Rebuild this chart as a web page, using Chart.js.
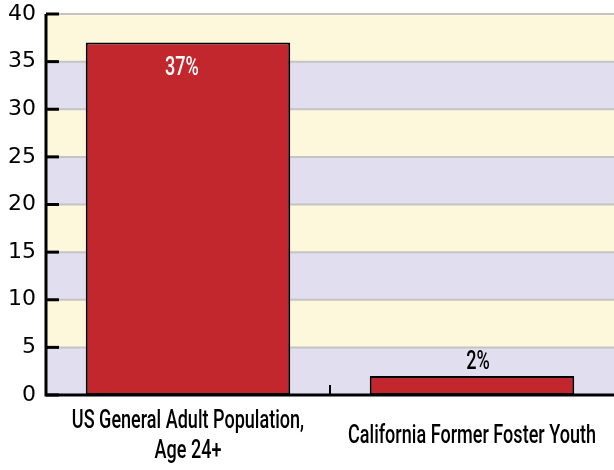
<!DOCTYPE html>
<html><head><meta charset="utf-8">
<script src="https://cdn.jsdelivr.net/npm/chart.js@4"></script>
<style>html,body{margin:0;padding:0;background:#fff}#wrap{width:614px;height:470px}</style>
</head><body><div id="wrap"><canvas id="c" width="614" height="470"></canvas></div>
<script>
const categories = [["US General Adult Population,", "Age 24+"], ["California Former Foster Youth"]];
const values = [37, 2];
const valueLabels = ["37%", "2%"];
const yTicks = [0, 5, 10, 15, 20, 25, 30, 35, 40];

const LABEL_FONT = "500 26px Roboto, 'DejaVu Sans', sans-serif";
let squeeze = null;

function narrowText(ctx, text, cx, baseline, color) {
  ctx.save();
  ctx.font = LABEL_FONT;
  if (squeeze === null) squeeze = 248 / ctx.measureText("California Former Foster Youth").width;
  ctx.translate(cx, baseline);
  ctx.scale(squeeze, 1);
  ctx.fillStyle = color;
  ctx.textAlign = 'center';
  ctx.textBaseline = 'alphabetic';
  ctx.fillText(text, 0, 0);
  ctx.restore();
}

const decor = {
  id: 'decor',
  beforeDatasetsDraw(chart) {
    const {ctx, chartArea: a, scales: {y}} = chart;
    ctx.save();
    for (let i = 0; i < yTicks.length - 1; i++) {
      const y0 = y.getPixelForValue(yTicks[i]), y1 = y.getPixelForValue(yTicks[i + 1]);
      ctx.fillStyle = (i % 2 === 0) ? '#e0deef' : '#fdf8dc';
      ctx.fillRect(a.left, y1, a.right - a.left, y0 - y1);
    }
    ctx.strokeStyle = '#c4c4c4';
    ctx.lineWidth = 2;
    yTicks.forEach(v => {
      const py = y.getPixelForValue(v);
      ctx.beginPath(); ctx.moveTo(a.left, py); ctx.lineTo(a.right, py); ctx.stroke();
    });
    ctx.restore();
  },
  afterDatasetsDraw(chart) {
    const {ctx, chartArea: a, scales: {x, y}} = chart;
    ctx.save();
    ctx.strokeStyle = '#000';
    ctx.lineWidth = 3;
    ctx.beginPath(); ctx.moveTo(a.left, a.top); ctx.lineTo(a.left, a.bottom); ctx.lineTo(a.right, a.bottom); ctx.stroke();
    yTicks.forEach(v => {
      const py = y.getPixelForValue(v);
      ctx.beginPath(); ctx.moveTo(a.left, py); ctx.lineTo(a.left + 13, py); ctx.stroke();
    });
    const mx = (x.getPixelForValue(0) + x.getPixelForValue(1)) / 2;
    ctx.lineWidth = 2;
    ctx.beginPath(); ctx.moveTo(mx, a.bottom); ctx.lineTo(mx, a.bottom - 10); ctx.stroke();
    ctx.restore();

    const meta = chart.getDatasetMeta(0);
    meta.data.forEach((bar, i) => {
      if (values[i] > 10) narrowText(ctx, valueLabels[i], bar.x - 6, bar.y + 32, '#fff');
      else narrowText(ctx, valueLabels[i], bar.x + 6, bar.y - 7, '#000');
    });

    const lineH = 30;
    const maxLines = Math.max(...categories.map(c => c.length));
    categories.forEach((lines, i) => {
      const cx = x.getPixelForValue(i);
      const offset = (maxLines - lines.length) * lineH / 2;
      lines.forEach((t, j) => narrowText(ctx, t, cx, a.bottom + 33 + offset + j * lineH, '#000'));
    });
  }
};

new Chart(document.getElementById('c'), {
  type: 'bar',
  data: {
    labels: categories,
    datasets: [{
      data: values,
      backgroundColor: '#c1272d',
      borderColor: '#000',
      borderWidth: 2,
      borderSkipped: false,
      categoryPercentage: 0.72,
      barPercentage: 1
    }]
  },
  options: {
    responsive: false,
    animation: false,
    layout: {padding: {top: 0, right: 0, left: -2, bottom: 75}},
    plugins: {legend: {display: false}, tooltip: {enabled: false}},
    scales: {
      x: {
        grid: {display: false, drawTicks: false},
        border: {display: false},
        ticks: {display: false}
      },
      y: {
        min: 0, max: 40,
        grid: {display: false, drawTicks: false},
        border: {display: false},
        ticks: {stepSize: 5, color: '#000', font: {family: "'DejaVu Sans', sans-serif", size: 22}, padding: 10},
        afterFit(scale) { scale.paddingTop = 14; scale.paddingBottom = 0; }
      }
    }
  },
  plugins: [decor]
});
</script>
</body></html>
